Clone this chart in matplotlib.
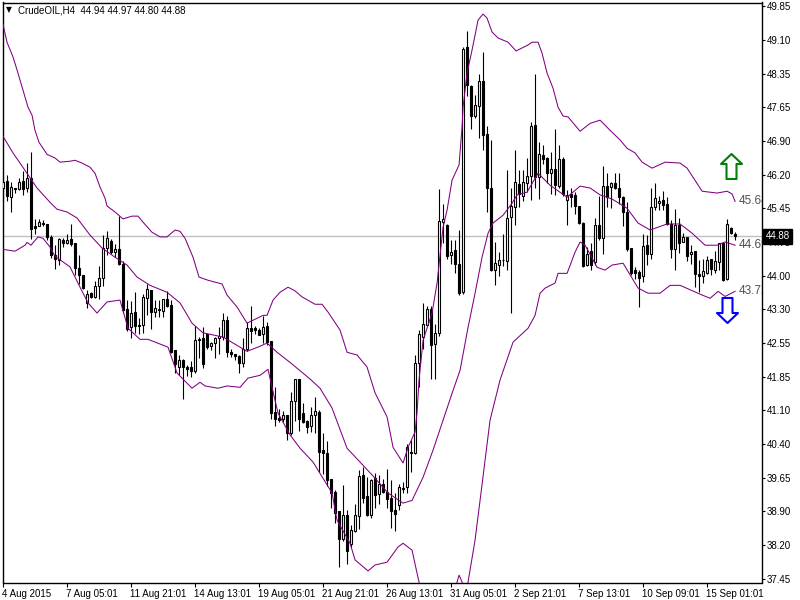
import matplotlib
matplotlib.use("Agg")
import matplotlib.pyplot as plt
from matplotlib.path import Path
from matplotlib.transforms import ScaledTranslation, blended_transform_factory

# H4 candles, one entry per bar
opens = [45.92, 46.08, 45.74, 45.94, 45.90, 46.08, 45.93, 46.15, 45.10, 45.11, 45.18, 45.16,
         44.87, 44.47, 44.37, 44.80, 44.73, 44.82, 44.73, 44.19, 44.05, 43.43, 43.65, 43.56,
         43.81, 43.97, 44.63, 44.79, 44.55, 44.60, 44.29, 43.30, 42.92, 43.25, 42.96, 42.97,
         43.55, 43.72, 43.25, 43.30, 43.27, 43.52, 43.39, 42.42, 42.05, 42.20, 42.05, 42.05,
         41.97, 42.66, 42.68, 42.77, 42.51, 42.58, 42.67, 42.70, 43.07, 42.37, 42.34, 42.29,
         42.14, 42.44, 42.89, 42.89, 42.86, 42.76, 42.94, 42.61, 41.07, 40.95, 40.92, 41.02,
         40.62, 41.31, 41.78, 41.06, 40.88, 40.77, 41.00, 41.07, 40.25, 40.18, 39.63, 39.35,
         38.93, 38.33, 38.84, 38.21, 38.50, 38.83, 39.71, 39.25, 38.85, 39.64, 39.30, 39.51,
         39.34, 39.22, 38.95, 39.07, 39.43, 39.44, 40.21, 40.19, 42.13, 42.70, 42.97, 43.30,
         42.55, 42.78, 45.20, 45.13, 44.48, 44.58, 44.28, 43.67, 48.98, 48.14, 47.50, 47.71,
         48.24, 47.09, 45.92, 44.15, 44.27, 44.38, 44.35, 45.31, 45.52, 46.01, 45.76, 46.04,
         46.20, 47.29, 46.16, 46.64, 46.57, 46.25, 46.35, 45.98, 46.56, 45.68, 45.79, 45.77,
         45.54, 45.18, 44.26, 44.57, 44.33, 45.13, 44.84, 45.98, 45.96, 46.03, 45.94, 45.74,
         45.41, 44.64, 44.15, 44.11, 44.02, 44.69, 44.49, 45.51, 45.61, 45.67, 45.58, 45.16,
         44.60, 45.13, 44.77, 44.86, 44.49, 44.56, 44.06, 44.03, 44.09, 44.40, 44.16, 44.33,
         44.74, 43.96, 45.07, 44.94]
highs = [46.21, 46.21, 46.05, 45.94, 46.14, 46.30, 46.48, 46.70, 45.25, 45.25, 45.23, 45.16,
         44.92, 44.69, 44.85, 44.85, 44.93, 45.15, 44.73, 44.47, 44.05, 43.72, 43.68, 43.91,
         44.25, 44.92, 44.99, 44.82, 44.71, 45.33, 44.35, 43.51, 43.48, 43.67, 43.12, 43.63,
         43.86, 43.72, 43.51, 43.50, 43.52, 43.70, 43.50, 42.42, 42.31, 42.23, 42.09, 42.18,
         42.94, 42.70, 42.92, 42.79, 42.60, 42.70, 42.92, 43.21, 43.16, 42.45, 42.34, 42.31,
         42.67, 43.03, 43.37, 42.94, 42.89, 43.15, 43.03, 42.61, 41.61, 41.15, 41.09, 41.02,
         41.51, 41.78, 41.78, 41.28, 40.91, 41.19, 41.39, 41.12, 40.61, 40.44, 39.63, 39.38,
         38.93, 39.49, 38.95, 38.62, 39.09, 39.82, 39.89, 39.67, 39.63, 39.76, 39.71, 39.63,
         39.83, 39.60, 39.31, 39.51, 39.56, 40.38, 40.47, 42.31, 42.85, 43.43, 43.37, 43.37,
         42.99, 45.90, 45.58, 45.14, 44.80, 44.80, 45.02, 48.99, 49.33, 48.16, 47.94, 48.39,
         48.87, 47.27, 46.97, 44.75, 44.55, 44.94, 46.32, 45.92, 46.76, 46.32, 46.32, 46.57,
         47.35, 48.41, 46.93, 46.86, 46.61, 46.70, 47.21, 46.86, 46.61, 45.88, 45.92, 45.85,
         45.54, 45.20, 44.66, 44.73, 45.29, 45.75, 46.40, 46.25, 46.06, 46.26, 46.25, 45.76,
         45.63, 44.64, 44.21, 44.15, 44.93, 44.91, 45.92, 46.04, 45.75, 45.86, 45.74, 45.23,
         45.47, 45.27, 44.95, 44.87, 44.69, 44.56, 44.37, 44.40, 44.45, 44.40, 44.57, 44.74,
         44.76, 45.25, 45.09, 44.97]
lows = [45.63, 45.65, 45.41, 45.83, 45.88, 45.78, 45.85, 44.82, 44.93, 45.10, 45.10, 44.80,
        44.42, 44.18, 44.27, 44.66, 44.71, 44.67, 44.05, 43.84, 43.74, 43.33, 43.54, 43.54,
        43.53, 43.81, 44.47, 44.51, 44.44, 44.27, 43.21, 42.84, 42.68, 42.78, 42.76, 42.78,
        43.17, 42.87, 43.14, 43.14, 43.14, 43.36, 42.36, 41.92, 41.87, 41.35, 41.85, 41.84,
        41.91, 42.24, 42.02, 42.44, 42.42, 42.24, 42.33, 42.63, 42.27, 42.27, 42.20, 41.92,
        42.05, 42.40, 42.56, 42.76, 42.74, 42.56, 42.52, 40.92, 40.78, 40.86, 40.86, 40.47,
        40.57, 40.88, 40.67, 40.84, 40.61, 40.65, 40.61, 39.78, 39.74, 39.47, 38.99, 38.67,
        37.72, 38.28, 37.78, 38.15, 38.48, 38.55, 39.11, 38.82, 38.77, 38.99, 39.08, 39.33,
        38.99, 38.57, 38.50, 38.95, 39.31, 39.32, 39.78, 40.16, 41.62, 42.45, 42.96, 41.78,
        41.80, 42.72, 44.73, 44.40, 44.28, 44.08, 43.60, 43.63, 47.92, 47.21, 47.44, 47.02,
        46.75, 45.41, 44.13, 43.83, 44.03, 44.24, 44.15, 43.21, 45.13, 45.52, 45.65, 45.85,
        45.67, 45.92, 45.70, 46.45, 46.03, 45.81, 45.78, 45.92, 45.75, 45.13, 45.51, 45.36,
        45.16, 44.22, 44.24, 44.15, 44.27, 44.80, 44.50, 45.51, 45.50, 45.90, 45.58, 45.11,
        44.57, 44.04, 43.95, 43.36, 43.90, 44.27, 44.40, 45.45, 45.45, 45.45, 45.13, 44.42,
        44.15, 44.53, 44.75, 44.35, 44.29, 43.79, 43.68, 43.88, 44.06, 44.04, 44.09, 44.16,
        43.92, 43.93, 44.93, 44.80]
closes = [46.06, 45.76, 45.96, 45.91, 46.06, 45.90, 46.14, 45.05, 45.07, 45.20, 45.15, 44.87,
          44.47, 44.40, 44.82, 44.74, 44.81, 44.72, 44.20, 44.05, 43.77, 43.64, 43.56, 43.80,
          43.97, 44.64, 44.84, 44.55, 44.60, 44.29, 43.28, 42.87, 43.21, 42.94, 42.94, 43.56,
          43.74, 43.25, 43.32, 43.28, 43.52, 43.38, 42.38, 42.11, 42.20, 42.04, 42.00, 41.97,
          42.63, 42.63, 42.12, 42.48, 42.56, 42.68, 42.73, 43.06, 42.38, 42.34, 42.29, 42.14,
          42.44, 42.89, 42.84, 42.86, 42.75, 42.92, 42.60, 41.06, 40.92, 40.91, 41.02, 40.61,
          41.31, 41.78, 40.92, 40.86, 40.75, 41.02, 41.09, 40.21, 40.19, 39.60, 39.33, 38.89,
          38.33, 38.84, 38.07, 38.52, 38.84, 39.69, 39.22, 38.85, 39.61, 39.27, 39.51, 39.35,
          39.18, 38.93, 38.86, 39.44, 39.41, 40.31, 40.19, 42.13, 42.76, 42.98, 43.30, 42.52,
          42.78, 45.21, 45.25, 44.45, 44.55, 44.28, 43.66, 48.95, 48.16, 47.50, 47.72, 48.24,
          47.08, 45.92, 44.15, 44.30, 44.37, 44.37, 45.29, 45.54, 46.05, 45.79, 46.05, 46.19,
          47.27, 46.17, 46.66, 46.56, 46.25, 46.35, 45.99, 46.56, 45.79, 45.78, 45.74, 45.54,
          45.18, 44.24, 44.51, 44.26, 45.13, 44.85, 45.98, 45.74, 46.03, 45.92, 45.74, 45.41,
          44.60, 44.08, 44.08, 43.99, 44.67, 44.49, 45.52, 45.72, 45.65, 45.57, 45.16, 44.60,
          45.13, 44.73, 44.86, 44.46, 44.55, 44.06, 44.03, 44.13, 44.38, 44.18, 44.34, 44.73,
          43.93, 45.14, 44.95, 44.88]

# Bollinger bands at the bars where they bend
upper_idx = [0, 1, 2.5, 3.5, 5, 6.25, 7.25, 8, 9, 11, 13, 14.25, 16.75, 18, 19.75, 21.75, 23, 24.25,
             25.5, 26, 28, 30, 32.25, 33.75, 35, 37.25, 39.25, 41, 43, 44.25, 45.5, 47.5, 49, 51.25,
             54.75, 56, 58.5, 61, 65, 66, 67.5, 69.25, 71.25, 73, 74.75, 78, 79.75, 81.25, 84.25, 86,
             88.5, 91, 93, 96, 97.5, 100, 101.25, 103, 103.5, 104, 105, 107.25, 108.5, 110, 111,
             112.25, 114, 114.75, 115, 116, 117.25, 118.75, 120, 121, 122.25, 123.75, 126.25, 128.25,
             131.25, 132.25, 133.75, 134.75, 136, 137.5, 138.75, 140, 141.25, 144.25, 146.75, 149.25,
             151.75, 154.25, 156, 158, 159.75, 162.25, 165.5, 169.25, 171, 174.75, 178.5, 181, 182.25,
             183]
upper = [49.48, 49.09, 48.77, 48.49, 48.05, 47.68, 47.51, 47.18, 46.92, 46.66, 46.58, 46.49, 46.51,
         46.53, 46.47, 46.38, 46.25, 45.95, 45.71, 45.54, 45.41, 45.26, 45.32, 45.32, 45.19, 44.97,
         44.87, 44.87, 45.02, 44.99, 44.84, 44.43, 44.00, 43.93, 43.85, 43.61, 43.35, 43.00, 43.17,
         43.17, 43.50, 43.67, 43.78, 43.70, 43.57, 43.41, 43.41, 43.24, 42.85, 42.37, 42.31, 42.05,
         41.49, 40.97, 40.31, 39.97, 40.31, 40.64, 41.07, 41.77, 42.63, 43.22, 43.87, 45.08, 45.45,
         46.10, 46.43, 47.25, 47.68, 48.42, 48.92, 49.57, 49.70, 49.61, 49.31, 49.18, 49.09, 48.90,
         49.03, 49.09, 49.09, 48.85, 48.42, 48.09, 47.68, 47.49, 47.47, 47.16, 47.33, 47.40, 47.18,
         46.97, 46.79, 46.69, 46.49, 46.36, 46.49, 46.47, 46.36, 45.86, 45.82, 45.86, 45.80, 45.64]
middle_idx = [0, 2.5, 4.25, 8.5, 11.75, 13.5, 16, 18.5, 21.75, 24.75, 28, 31, 33.5, 36.75, 41, 44.25,
              47.25, 50, 55, 61, 64.25, 66, 68.5, 71.75, 76.75, 79.25, 82.25, 86, 89.25, 93, 96.25,
              100, 102.25, 105, 107.5, 112.25, 114.25, 116.25, 118, 119.75, 121.25, 122.5, 125,
              127.25, 128.5, 131, 133.75, 136.75, 141, 144.25, 146.75, 149.25, 152.25, 156, 158.75,
              161.75, 166, 169.25, 172.25, 175.5, 178.5, 180.5, 183]
middle = [47.05, 46.69, 46.47, 45.93, 45.62, 45.47, 45.41, 45.28, 44.91, 44.63, 44.43, 44.26, 44.00,
          43.82, 43.67, 43.44, 43.00, 42.79, 42.70, 42.39, 42.50, 42.57, 42.37, 42.15, 41.79, 41.59,
          41.16, 40.29, 39.99, 39.64, 39.32, 39.10, 39.16, 39.66, 40.25, 41.48, 41.98, 42.91, 43.65,
          44.43, 44.95, 45.17, 45.34, 45.60, 45.78, 45.84, 46.25, 45.99, 45.73, 45.97, 45.93, 45.78,
          45.69, 45.49, 45.17, 45.02, 45.15, 45.15, 44.95, 44.69, 44.69, 44.76, 44.69]
lower_idx = [0, 3, 5.5, 6, 7, 8.75, 10, 11.75, 13, 16.75, 19.25, 21.25, 23.5, 26, 29.25, 31.25, 34.25,
             36.25, 41.25, 43.5, 47.25, 49.25, 50.5, 53.75, 56, 59.25, 61.25, 64.25, 66.25, 67.25,
             68.75, 71.75, 74.25, 77.5, 82.25, 83.5, 86.75, 88, 91.25, 93, 96, 98.75, 100, 102.25,
             103.5, 104, 106.75, 110.5, 113.5, 114, 114.75, 115.5, 116.25, 118, 119.25, 121.75,
             124.25, 127.5, 131.25, 133, 134.25, 135.5, 138, 138.75, 141, 143, 144.25, 145.5, 148.5,
             150.5, 152.25, 155, 158.75, 161.25, 164.25, 166.75, 169.25, 174.75, 176.75, 178.75,
             180.5, 183]
lower = [44.60, 44.56, 44.69, 44.75, 44.69, 44.87, 44.84, 44.65, 44.45, 44.22, 43.78, 43.44, 43.22,
         43.46, 43.50, 42.89, 42.65, 42.65, 42.48, 41.92, 41.59, 41.72, 41.64, 41.59, 41.64, 41.61,
         41.81, 41.87, 42.00, 41.61, 41.05, 40.58, 40.29, 39.99, 39.32, 38.73, 38.23, 37.87, 37.63,
         37.76, 37.82, 38.15, 38.23, 38.08, 37.58, 37.39, 36.56, 36.46, 37.39, 37.54, 37.39, 37.21,
         37.39, 38.30, 39.16, 40.90, 41.77, 42.59, 42.89, 43.17, 43.65, 43.76, 43.87, 44.08, 44.08,
         44.54, 44.76, 44.69, 44.21, 44.15, 44.26, 44.30, 43.76, 43.65, 43.65, 43.82, 43.82, 43.61,
         43.54, 43.69, 43.58, 43.69]

# axis scale: true level of each tick and what the terminal prints for it
price_ticks = [49.875, 49.145, 48.41, 47.69, 46.95, 46.22, 45.49, 44.76, 44.03, 43.30, 42.57, 41.84,
               41.11, 40.38, 39.65, 38.92, 38.19, 37.46]
price_labels = ["49.85", "49.10", "48.35", "47.65", "46.90", "46.20", "45.45", "44.75", "44.00",
                "43.30", "42.55", "41.85", "41.10", "40.40", "39.65", "38.90", "38.20", "37.45"]
time_ticks = [0, 16, 32, 48, 64, 80, 96, 112, 128, 144, 160, 176]
time_labels = ["4 Aug 2015", "7 Aug 05:01", "11 Aug 21:01", "14 Aug 13:01", "19 Aug 05:01",
               "21 Aug 21:01", "26 Aug 13:01", "31 Aug 05:01", "2 Sep 21:01", "7 Sep 13:01",
               "10 Sep 09:01", "15 Sep 01:01"]

# band labels at the right end, cut off by the price scale
band_labels = ["45.64", "44.69", "43.72"]

UP_ARROW = Path([(0, 1), (0.84, 0.2), (0.4, 0.2), (0.4, -1), (-0.4, -1), (-0.4, 0.2), (-0.84, 0.2), (0, 1)],
                closed=True)
DOWN_ARROW = Path([(0, -1), (0.84, -0.2), (0.4, -0.2), (0.4, 1), (-0.4, 1), (-0.4, -0.2), (-0.84, -0.2), (0, -1)],
                  closed=True)

plt.rcParams["font.family"] = ["Liberation Sans", "DejaVu Sans"]
TICK_SIZE = 7.0

fig = plt.figure(figsize=(8, 6), dpi=100, facecolor="white")
ax = fig.add_axes([2.5 / 800, 1 - 582.5 / 600, 759 / 800, 580 / 600])
ax.set_xlim(-0.125, 189.6)
ax.set_ylim(37.38, 49.95)

idx = list(range(len(opens)))
ax.axhline(closes[-1], color="#c0c0c0", lw=1.0, zorder=1)

ax.vlines(idx, lows, highs, color="black", lw=0.8, zorder=2)
body_low = [min(o, c) for o, c in zip(opens, closes)]
body_h = [abs(o - c) for o, c in zip(opens, closes)]
body_col = ["white" if c >= o else "black" for o, c in zip(opens, closes)]
ax.bar(idx, body_h, bottom=body_low, width=0.5, color=body_col, edgecolor="black", linewidth=0.8, zorder=3)

for xs, ys in [(upper_idx, upper), (middle_idx, middle), (lower_idx, lower)]:
    ax.plot(xs, ys, color="#800080", lw=0.75, zorder=4)

for val, txt in zip([upper[-1], middle[-1], lower[-1]], band_labels):
    ax.text(184, val, txt, color="#505050", fontsize=8.5, va="center", ha="left", clip_on=True, zorder=5)

ax.plot([182], [46.40], marker=UP_ARROW, ms=18, mfc="white", mec="#008000", mew=1.5, ls="none", zorder=6)
ax.plot([181], [43.28], marker=DOWN_ARROW, ms=18, mfc="white", mec="#0000ff", mew=1.5, ls="none", zorder=6)

ax.set_yticks(price_ticks)
ax.set_yticklabels(price_labels, ha="left")
ax.yaxis.tick_right()
ax.tick_params(axis="y", length=2, width=0.8, pad=2, labelsize=TICK_SIZE, color="black")
ax.set_xticks(time_ticks)
ax.set_xticklabels(time_labels, ha="left")
ax.tick_params(axis="x", length=3, width=0.8, pad=2, labelsize=TICK_SIZE, color="black")
shift = ScaledTranslation(-1 / 100, 0, fig.dpi_scale_trans)
for label in ax.get_xticklabels():
    label.set_transform(label.get_transform() + shift)
for spine in ax.spines.values():
    spine.set_linewidth(1.0)

# current price flag on the scale
trans = blended_transform_factory(ax.transAxes, ax.transData)
ax.text(1.0055, closes[-1], f"{closes[-1]:.2f}", transform=trans, color="white", fontsize=TICK_SIZE,
        va="center", ha="left", clip_on=False, zorder=10,
        bbox=dict(facecolor="black", edgecolor="black", pad=1.6))

fig.text(6 / 800, 1 - 10 / 600, "▼", fontsize=5.5, family="DejaVu Sans", va="center", ha="left", color="black")
fig.text(18 / 800, 1 - 10.5 / 600,
         f"CrudeOIL,H4  {opens[-1]:.2f} {highs[-1]:.2f} {lows[-1]:.2f} {closes[-1]:.2f}",
         fontsize=TICK_SIZE, va="center", ha="left", color="black")

fig.savefig("out.png", dpi=100)
